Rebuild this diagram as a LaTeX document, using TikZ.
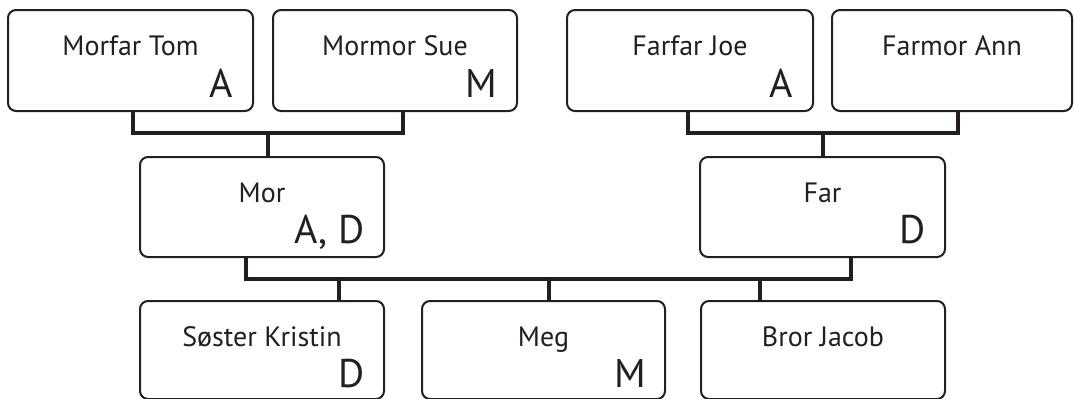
\documentclass[tikz,border=0pt]{standalone}
\usepackage{fontspec}
\setmainfont{PT Sans}
\usetikzlibrary{calc}
\definecolor{ink}{HTML}{231F20}
\tikzset{
  personbox/.style={draw=ink, line width=2pt, rounded corners=8pt, inner sep=0pt, outer sep=0pt},
  conn/.style={draw=ink, line width=4.5pt, line join=miter, line cap=butt},
  pname/.style={font=\fontsize{28}{30}\selectfont, text=ink, inner sep=0pt, anchor=base},
  pletter/.style={font=\fontsize{40}{44}\selectfont, text=ink, inner sep=0pt, anchor=base east},
}
\begin{document}
\begin{tikzpicture}[x=1pt,y=-1pt]
\useasboundingbox (0,0) rectangle (1074,399);
\clip (0,0) rectangle (1074,399);
% boxes
\node[personbox, minimum width=245pt, minimum height=101pt] (MT) at (130.5,60.5) {};
\node[personbox, minimum width=244pt, minimum height=101pt] (MS) at (395,60.5) {};
\node[personbox, minimum width=246pt, minimum height=101pt] (FJ) at (690,60.5) {};
\node[personbox, minimum width=240pt, minimum height=101pt] (FA) at (952,60.5) {};
\node[personbox, minimum width=244pt, minimum height=100pt] (MO) at (262,207) {};
\node[personbox, minimum width=245pt, minimum height=100pt] (FR) at (822.5,207) {};
\node[personbox, minimum width=244pt, minimum height=98pt] (SK) at (262,350) {};
\node[personbox, minimum width=243pt, minimum height=98pt] (MG) at (543.5,350) {};
\node[personbox, minimum width=244pt, minimum height=98pt] (BJ) at (823,350) {};
% names
\node[pname] (tMT) at ($(MT.north)+(0,45)$) {Morfar Tom};
\node[pname] (tMS) at ($(MS.north)+(0,45)$) {Mormor Sue};
\node[pname] (tFJ) at ($(FJ.north)+(0,45)$) {Farfar Joe};
\node[pname] (tFA) at ($(FA.north)+(0,45)$) {Farmor Ann};
\node[pname] (tMO) at ($(MO.north)+(0,45)$) {Mor};
\node[pname] (tFR) at ($(FR.north)+(0,45)$) {Far};
\node[pname] (tSK) at ($(SK.north)+(0,45)$) {Søster Kristin};
\node[pname] (tMG) at ($(MG.north)+(0,45)$) {Meg};
\node[pname] (tBJ) at ($(BJ.north)+(0,45)$) {Bror Jacob};
% letters
\node[pletter] (lMT) at ($(MT.south east)+(-20,-14)$) {A};
\node[pletter] (lMS) at ($(MS.south east)+(-20,-14)$) {M};
\node[pletter] (lFJ) at ($(FJ.south east)+(-20,-14)$) {A};
\node[pletter] (lMO) at ($(MO.south east)+(-19,-14)$) {A, D};
\node[pletter] (lFR) at ($(FR.south east)+(-19,-14)$) {D};
\node[pletter] (lSK) at ($(SK.south east)+(-19,-12)$) {D};
\node[pletter] (lMG) at ($(MG.south east)+(-19,-12)$) {M};
% connector coordinates
\coordinate (xMT) at (133,0);
\coordinate (xMS) at (403,0);
\coordinate (jMO) at (268,133);
\coordinate (xFJ) at (688,0);
\coordinate (xFA) at (958,0);
\coordinate (jFR) at (823,133);
\coordinate (xMOs) at (246,0);
\coordinate (xFRs) at (851,0);
\coordinate (jKid) at (0,279);
\coordinate (xSK) at (339,0);
\coordinate (xMG) at (549,0);
\coordinate (xBJ) at (760,0);
% connectors
\draw[conn] (MT.south -| xMT) |- (jMO) -| (MS.south -| xMS);
\draw[conn] (jMO) -- (MO.north -| jMO);
\draw[conn] (FJ.south -| xFJ) |- (jFR) -| (FA.south -| xFA);
\draw[conn] (jFR) -- (FR.north -| jFR);
\draw[conn] (MO.south -| xMOs) |- (jKid -| xFRs) -- (FR.south -| xFRs);
\draw[conn] (jKid -| xSK) -- (SK.north -| xSK);
\draw[conn] (jKid -| xMG) -- (MG.north -| xMG);
\draw[conn] (jKid -| xBJ) -- (BJ.north -| xBJ);
\end{tikzpicture}
\end{document}
